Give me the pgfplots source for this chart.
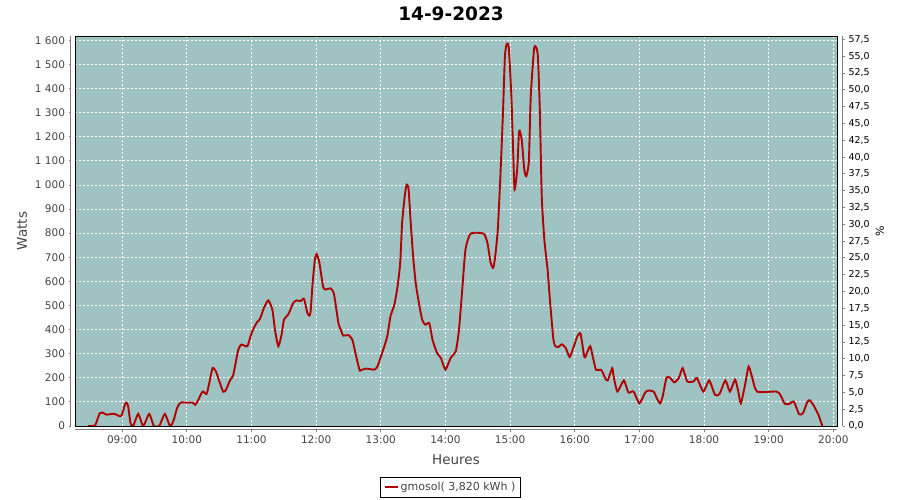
\documentclass[border=0pt]{standalone}
\usepackage{fontspec}
\setmainfont{DejaVu Sans}
\usepackage{pgfplots}
\pgfplotsset{compat=1.18}
\definecolor{plotbg}{RGB}{159,195,194}
\definecolor{axisgray}{RGB}{128,128,128}
\definecolor{labgray}{RGB}{68,68,68}
\definecolor{linered}{RGB}{176,0,0}
\begin{document}
\begin{tikzpicture}
\useasboundingbox (0pt,0pt) rectangle (900pt,500pt);
\fill[white] (0pt,0pt) rectangle (900pt,500pt);
% main plot: background, grid, data, legend
\begin{axis}[
  at={(75pt,74pt)}, anchor=south west, scale only axis,
  width=762pt, height=390pt,
  xmin=8.27, xmax=20.057, ymin=0, ymax=1618,
  axis background/.style={fill=plotbg},
  axis line style={black, line width=0.9pt},
  xtick={9,10,...,20}, ytick={0,100,...,1600},
  xticklabels={}, yticklabels={},
  major tick length=0pt,
  grid=major,
  major grid style={white, line width=0.8pt, dash pattern=on 2pt off 2pt},
  legend style={at={(axis description cs:0.4928,-0.1564)}, anchor=center,
    draw=black, line width=0.6pt, fill=white, font=\fontsize{11}{13}\selectfont\color{labgray},
    inner xsep=3pt, inner ysep=3pt},
  legend cell align=left,
  legend image code/.code={\draw[linered, line width=2pt] (0pt,0pt) -- (13pt,0pt);},
]
\addplot[linered, line width=1.9pt, smooth, tension=0.35] coordinates {
(8.474,0) (8.577,2) (8.62,30) (8.654,53) (8.696,56) (8.757,47) (8.835,50) (8.886,50)
(8.938,43) (8.990,43) (9.041,88) (9.067,97) (9.093,81) (9.129,11) (9.170,0) (9.248,50)
(9.325,0) (9.418,50) (9.490,0) (9.573,0) (9.660,50) (9.738,0) (9.789,18) (9.85,75)
(9.903,97) (9.996,97) (10.089,97) (10.130,88) (10.176,108) (10.244,143) (10.305,133)
(10.347,178) (10.398,240) (10.450,226) (10.512,178) (10.563,142) (10.605,150) (10.667,189)
(10.718,212) (10.796,317) (10.847,338) (10.935,331) (11.002,386) (11.079,428) (11.131,444)
(11.193,490) (11.260,521) (11.322,483) (11.363,400) (11.415,331) (11.466,379) (11.503,442)
(11.570,463) (11.647,511) (11.699,521) (11.761,518) (11.812,528) (11.864,469) (11.895,458)
(11.915,476) (11.946,594) (11.982,692) (12.008,713) (12.050,678) (12.111,574) (12.163,567)
(12.225,571) (12.277,546) (12.344,428) (12.38,400) (12.42,375) (12.50,377) (12.56,358)
(12.61,300) (12.67,233) (12.69,231) (12.77,238) (12.90,234) (12.95,248) (13.03,310)
(13.10,372) (13.15,455) (13.21,503) (13.26,580) (13.30,676) (13.33,842) (13.37,953)
(13.40,1001) (13.43,983) (13.46,856) (13.50,704) (13.54,593) (13.59,510) (13.64,441)
(13.69,420) (13.75,427) (13.80,358) (13.87,303) (13.93,282) (14.00,234) (14.08,282)
(14.16,310) (14.21,400) (14.26,566) (14.31,732) (14.39,798) (14.59,798) (14.65,759)
(14.70,676) (14.74,656) (14.77,704) (14.81,815) (14.85,1036) (14.89,1299) (14.92,1534)
(14.95,1586) (14.98,1568) (15.02,1368) (15.05,1119) (15.07,981) (15.11,1064) (15.14,1223)
(15.18,1188) (15.22,1064) (15.25,1036) (15.29,1098) (15.32,1368) (15.37,1562) (15.40,1573)
(15.43,1534) (15.46,1313) (15.49,953) (15.53,773) (15.58,649) (15.62,510) (15.67,360)
(15.70,331) (15.75,328) (15.80,339) (15.86,324) (15.92,286) (15.97,317) (16.04,372)
(16.09,383) (16.15,286) (16.19,303) (16.24,331) (16.29,275) (16.33,233) (16.41,233)
(16.47,199) (16.51,189) (16.58,240) (16.60,208) (16.66,143) (16.76,189) (16.83,139)
(16.91,143) (17.00,94) (17.09,139) (17.14,147) (17.22,143) (17.27,115) (17.32,94)
(17.36,122) (17.42,201) (17.48,199) (17.54,181) (17.61,199) (17.67,240) (17.74,185)
(17.84,185) (17.89,199) (17.99,143) (18.08,189) (18.17,129) (18.24,133) (18.33,189)
(18.40,143) (18.48,192) (18.53,143) (18.57,94) (18.64,178) (18.69,247) (18.74,206)
(18.82,143) (19.12,143) (19.18,129) (19.25,92) (19.32,92) (19.39,101) (19.47,49)
(19.53,53) (19.60,101) (19.64,106) (19.70,83) (19.77,46) (19.83,0)
};
\addlegendentry{gmosol( 3,820 kWh )}
\end{axis}
% left and bottom axes (detached)
\begin{axis}[
  at={(75pt,74pt)}, anchor=south west, scale only axis,
  width=762pt, height=390pt,
  xmin=8.27, xmax=20.057, ymin=0, ymax=1618,
  axis x line*=bottom, axis y line*=left,
  axis line shift=4pt,
  axis line style={draw=axisgray, line width=1pt, -},
  x axis line style={-}, y axis line style={-},
  xtick={9,10,...,20},
  xticklabels={09:00,10:00,11:00,12:00,13:00,14:00,15:00,16:00,17:00,18:00,19:00,20:00},
  ytick={0,100,...,1600},
  tick align=outside, major tick length=2.5pt,
  tick style={draw=axisgray, line width=0.8pt},
  /pgf/number format/assume math mode=true,
  /pgf/number format/1000 sep={\ },
  ticklabel style={font=\fontsize{10.5}{12}\selectfont, text=labgray},
  xlabel={Heures}, ylabel={Watts},
  label style={font=\fontsize{13.5}{15}\selectfont, text=labgray},
  xlabel style={at={(axis description cs:0.5,-0.0872)}, anchor=center},
  ylabel style={at={(axis description cs:-0.0696,0.5)}, anchor=center},
]
\end{axis}
% right axis
\begin{axis}[
  at={(75pt,74pt)}, anchor=south west, scale only axis,
  width=762pt, height=390pt,
  xmin=8.27, xmax=20.057, ymin=0, ymax=58.0,
  axis x line=none, axis y line*=right,
  axis line shift=5.5pt,
  axis line style={draw=axisgray, line width=1pt, -},
  y axis line style={-},
  ytick={0,2.5,5,7.5,10,12.5,15,17.5,20,22.5,25,27.5,30,32.5,35,37.5,40,42.5,45,47.5,50,52.5,55,57.5},
  tick align=outside, major tick length=2.5pt,
  tick style={draw=axisgray, line width=0.8pt},
  /pgf/number format/assume math mode=true,
  yticklabel style={font=\fontsize{9.5}{11}\selectfont, text=black,
    /pgf/number format/.cd, fixed, fixed zerofill, precision=1, use comma},
  ylabel={\%},
  ylabel style={at={(axis description cs:1.0564,0.5)}, anchor=center,
    font=\fontsize{11}{12}\selectfont},
]
\end{axis}
\node[font=\bfseries\fontsize{18.5}{20}\selectfont] at (451pt,486.5pt) {14-9-2023};
\end{tikzpicture}
\end{document}
